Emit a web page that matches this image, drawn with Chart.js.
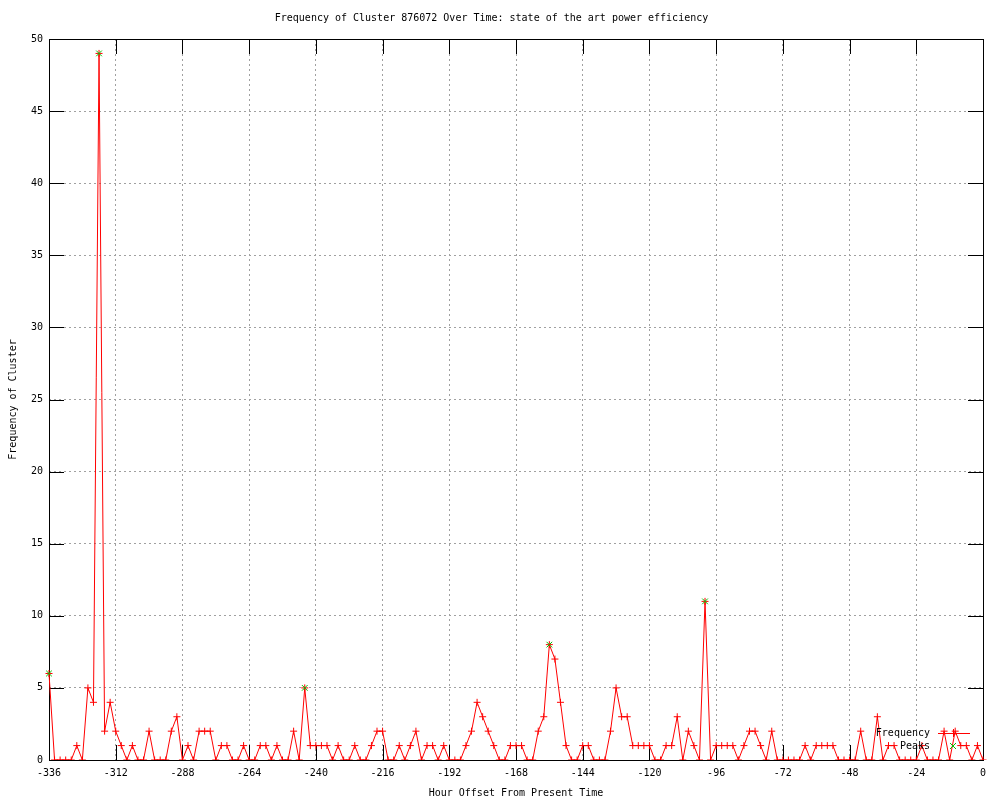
<!DOCTYPE html>
<html>
<head>
<meta charset="utf-8">
<script src="https://cdn.jsdelivr.net/npm/chart.js@4"></script>
<style>
  html, body { margin: 0; padding: 0; background: #fff; }
  canvas { display: block; }
</style>
</head>
<body>
<canvas id="freqChart" width="1000" height="800"></canvas>
<script>
// x axis: hour offsets, one sample every 2 hours from -336 to 0
const hours = Array.from({ length: 169 }, (_, i) => -336 + 2 * i);

// cluster frequency per sample
const frequency = [
    6, 0, 0, 0, 0, 1, 0, 5, 4, 49, 2, 4,
    2, 1, 0, 1, 0, 0, 2, 0, 0, 0, 2, 3,
    0, 1, 0, 2, 2, 2, 0, 1, 1, 0, 0, 1,
    0, 0, 1, 1, 0, 1, 0, 0, 2, 0, 5, 1,
    1, 1, 1, 0, 1, 0, 0, 1, 0, 0, 1, 2,
    2, 0, 0, 1, 0, 1, 2, 0, 1, 1, 0, 1,
    0, 0, 0, 1, 2, 4, 3, 2, 1, 0, 0, 1,
    1, 1, 0, 0, 2, 3, 8, 7, 4, 1, 0, 0,
    1, 1, 0, 0, 0, 2, 5, 3, 3, 1, 1, 1,
    1, 0, 0, 1, 1, 3, 0, 2, 1, 0, 11, 0,
    1, 1, 1, 1, 0, 1, 2, 2, 1, 0, 2, 0,
    0, 0, 0, 0, 1, 0, 1, 1, 1, 1, 0, 0,
    0, 0, 2, 0, 0, 3, 0, 1, 1, 0, 0, 0,
    0, 1, 0, 0, 0, 2, 0, 2, 1, 1, 0, 1,
    0
];

// detected peaks
const peakHours = [-336, -318, -244, -156, -100];
const peakValues = [6, 49, 5, 8, 11];

const titleText = "Frequency of Cluster 876072 Over Time: state of the art power efficiency";
const xTitle = "Hour Offset From Present Time";
const yTitle = "Frequency of Cluster";

const RED = "#ff0000";
const GREEN = "#00c000";
const FONT = "DejaVu Sans Mono";

Chart.defaults.font.family = FONT;
Chart.defaults.font.size = 10;
Chart.defaults.color = "#000";

// gnuplot style frame, inward ticks on all four sides, and the key box
const frameAndKey = {
    id: "frameAndKey",
    beforeDatasetsDraw(chart) {
        const { ctx, chartArea: a, scales } = chart;
        const tick = 15;
        ctx.save();
        ctx.strokeStyle = "#000";
        ctx.lineWidth = 1;
        ctx.beginPath();
        scales.x.ticks.forEach(t => {
            const px = Math.round(scales.x.getPixelForValue(t.value)) + 0.5;
            ctx.moveTo(px, a.bottom); ctx.lineTo(px, a.bottom - tick);
            ctx.moveTo(px, a.top); ctx.lineTo(px, a.top + tick);
        });
        scales.y.ticks.forEach(t => {
            const py = Math.round(scales.y.getPixelForValue(t.value)) + 0.5;
            ctx.moveTo(a.left, py); ctx.lineTo(a.left + tick, py);
            ctx.moveTo(a.right, py); ctx.lineTo(a.right - tick, py);
        });
        ctx.stroke();
        ctx.strokeRect(Math.round(a.left) + 0.5, Math.round(a.top) + 0.5,
            Math.round(a.right - a.left), Math.round(a.bottom - a.top));
        ctx.restore();
    },
    afterDatasetsDraw(chart) {
        const { ctx, chartArea: a } = chart;
        const textRight = a.right - 53;
        const lineL = a.right - 45, lineR = a.right - 13;
        const cx = a.right - 30;
        const y1 = a.bottom - 27, y2 = a.bottom - 14;
        ctx.save();
        ctx.font = "10px " + FONT;
        ctx.fillStyle = "#000";
        ctx.textAlign = "right";
        ctx.textBaseline = "middle";
        ctx.fillText("Frequency", textRight, y1);
        ctx.fillText("Peaks", textRight, y2);
        ctx.strokeStyle = RED;
        ctx.lineWidth = 1;
        ctx.beginPath();
        ctx.moveTo(lineL, y1 + 0.5); ctx.lineTo(lineR, y1 + 0.5);
        ctx.moveTo(cx - 4, y1 + 0.5); ctx.lineTo(cx + 4, y1 + 0.5);
        ctx.moveTo(cx + 0.5, y1 - 4); ctx.lineTo(cx + 0.5, y1 + 4);
        ctx.stroke();
        ctx.strokeStyle = GREEN;
        ctx.beginPath();
        ctx.moveTo(cx - 3, y2 - 3); ctx.lineTo(cx + 3, y2 + 3);
        ctx.moveTo(cx - 3, y2 + 3); ctx.lineTo(cx + 3, y2 - 3);
        ctx.stroke();
        ctx.restore();
    }
};

// markers may spill over the frame except below the baseline
const markClip = { left: 10, top: 10, right: 10, bottom: 0 };

new Chart(document.getElementById("freqChart"), {
    type: "line",
    data: {
        datasets: [
            {
                label: "Peaks",
                data: peakHours.map((h, i) => ({ x: h, y: peakValues[i] })),
                showLine: false,
                pointStyle: "crossRot",
                pointRadius: 4,
                pointBorderWidth: 1,
                pointBorderColor: GREEN,
                borderColor: GREEN,
                clip: markClip,
                order: 0
            },
            {
                label: "Frequency",
                data: hours.map((h, i) => ({ x: h, y: frequency[i] })),
                borderColor: RED,
                borderWidth: 1,
                tension: 0,
                pointStyle: "cross",
                pointRadius: 3.5,
                pointBorderWidth: 1,
                pointBorderColor: RED,
                fill: false,
                clip: markClip,
                order: 1
            }
        ]
    },
    options: {
        responsive: false,
        animation: false,
        devicePixelRatio: 1,
        layout: { padding: { left: 0, right: 17, top: 0, bottom: 0 } },
        plugins: {
            legend: { display: false },
            tooltip: { enabled: false },
            title: {
                display: true,
                text: titleText,
                font: { family: FONT, size: 10, weight: "normal" },
                color: "#000",
                padding: { top: 12, bottom: 15 }
            }
        },
        scales: {
            x: {
                type: "linear",
                min: -336,
                max: 0,
                ticks: { stepSize: 24, padding: 7, maxRotation: 0, autoSkip: false },
                grid: { color: "#a0a0a0", drawTicks: false, lineWidth: 1 },
                border: { display: false, dash: [2, 3] },
                title: { display: true, text: xTitle, padding: { top: 0, bottom: 1 } },
                afterFit(scale) { scale.height = 40; }
            },
            y: {
                min: 0,
                max: 50,
                ticks: { stepSize: 5, padding: 6 },
                grid: { color: "#a0a0a0", drawTicks: false, lineWidth: 1 },
                border: { display: false, dash: [2, 3] },
                title: { display: true, text: yTitle, padding: { top: 7, bottom: 0 } },
                afterFit(scale) { scale.width = 49; }
            }
        }
    },
    plugins: [frameAndKey]
});
</script>
</body>
</html>
